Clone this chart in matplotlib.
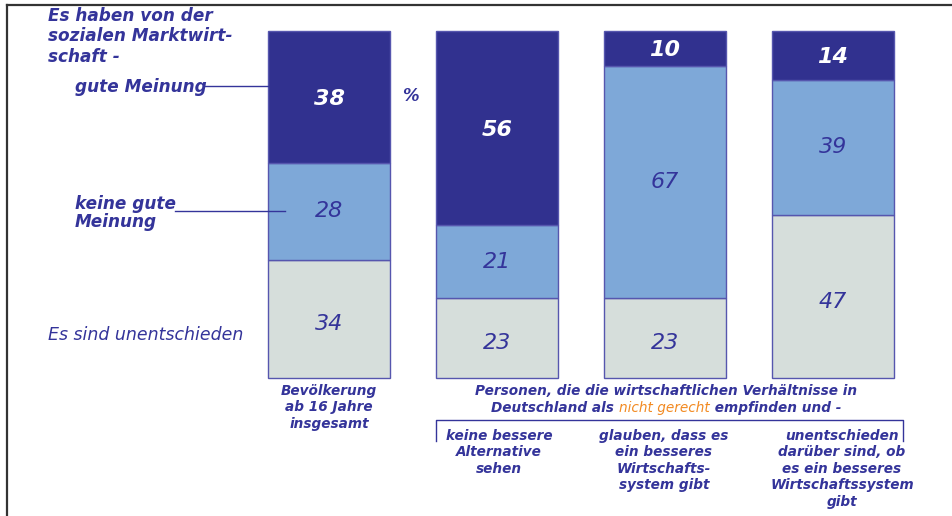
import matplotlib
matplotlib.use("Agg")
import matplotlib.pyplot as plt
from matplotlib.lines import Line2D
from matplotlib.offsetbox import TextArea, HPacker, AnnotationBbox
import numpy as np

# ---- data ----
groups = ["Bevölkerung ab 16 Jahre insgesamt", "keine bessere Alternative sehen",
          "glauben, dass es ein besseres Wirtschaftssystem gibt",
          "unentschieden darüber sind, ob es ein besseres Wirtschaftssystem gibt"]
gute_meinung = [38, 56, 10, 14]
keine_gute = [28, 21, 67, 39]
unentschieden = [34, 23, 23, 47]
bottom_labels = ["keine bessere\nAlternative\nsehen",
                 "glauben, dass es\nein besseres\nWirtschafts-\nsystem gibt",
                 "unentschieden\ndarüber sind, ob\nes ein besseres\nWirtschaftssystem\ngibt"]

W, H = 953, 516
DARK = "#31318f"
MID = "#7ea8d8"
LIGHT = "#d6dedb"
EDGE = "#5656ae"
TXT = "#34349a"
ORANGE = "#f28a22"
FONT = "DejaVu Sans"

fig = plt.figure(figsize=(W / 100, H / 100), dpi=100)
ax = fig.add_axes([0, 0, 1, 1])
# pixel mapping: bar centres at 329 + 168*i px, 0% at y=378px, 100% at y=31px
ax.set_xlim(-329 / 168, (W - 329) / 168)
ax.set_ylim((378 - H) / 3.47, 378 / 3.47)
ax.axis("off")

def px(x, y):
    return (x / W, 1 - y / H)

x = np.arange(len(gute_meinung))
bw = 122 / 168
g = np.array(unentschieden)
k = np.array(keine_gute)
d = np.array(gute_meinung)
ax.bar(x, g, bw, color=LIGHT, edgecolor=EDGE, linewidth=1)
ax.bar(x, k, bw, bottom=g, color=MID, edgecolor=EDGE, linewidth=1)
ax.bar(x, d, bw, bottom=g + k, color=DARK, edgecolor=EDGE, linewidth=1)

for i in range(len(x)):
    ax.text(x[i], g[i] / 2 - 1.5, str(g[i]), ha="center", va="center", color=TXT,
            fontsize=16, fontstyle="italic", family=FONT)
    ax.text(x[i], g[i] + k[i] / 2, str(k[i]), ha="center", va="center", color=TXT,
            fontsize=16, fontstyle="italic", family=FONT)
    ax.text(x[i], g[i] + k[i] + d[i] / 2 - 0.5, str(d[i]), ha="center", va="center",
            color="white", fontsize=16, fontstyle="italic", fontweight="bold", family=FONT)

# frame lines
fig.add_artist(Line2D([7 / W, 1], [1 - 5 / H, 1 - 5 / H], color="#333333", lw=1.6,
                      transform=fig.transFigure))
fig.add_artist(Line2D([7 / W, 7 / W], [1 - 5 / H, 0], color="#333333", lw=1.6,
                      transform=fig.transFigure))

bi = dict(fontstyle="italic", fontweight="bold", family=FONT, color=TXT)

# left annotations
fig.text(*px(48, 7), "Es haben von der\nsozialen Marktwirt-\nschaft -", ha="left", va="top",
         fontsize=12.2, linespacing=1.17, **bi)
fig.text(*px(75, 87), "gute Meinung", ha="left", va="center", fontsize=12.2, **bi)
fig.add_artist(Line2D([205 / W, 268 / W], [1 - 86 / H] * 2, color=TXT, lw=1,
                      transform=fig.transFigure))
fig.text(*px(75, 213), "keine gute\nMeinung", ha="left", va="center", fontsize=12.2,
         linespacing=1.0, **bi)
fig.add_artist(Line2D([175 / W, 285 / W], [1 - 211 / H] * 2, color=TXT, lw=1,
                      transform=fig.transFigure))
fig.text(*px(48, 335), "Es sind unentschieden", ha="left", va="center", fontsize=12.5,
         fontstyle="italic", family=FONT, color=TXT)
fig.text(*px(410, 96), "%", ha="center", va="center", fontsize=12, **bi)

# bottom labels
BFS = 9.8
fig.text(*px(329, 384), "Bevölkerung\nab 16 Jahre\ninsgesamt", ha="center", va="top",
         fontsize=BFS, linespacing=1.22, **bi)
fig.text(*px(666, 384), "Personen, die die wirtschaftlichen Verhältnisse in", ha="center",
         va="top", fontsize=BFS, **bi)
parts = [TextArea("Deutschland als ", textprops=dict(fontsize=BFS, **bi)),
         TextArea("nicht gerecht", textprops=dict(fontsize=BFS, fontstyle="italic",
                                                   family=FONT, color=ORANGE)),
         TextArea(" empfinden und -", textprops=dict(fontsize=BFS, **bi))]
box = HPacker(children=parts, pad=0, sep=0, align="baseline")
ab = AnnotationBbox(box, px(666, 408), xycoords="figure fraction", frameon=False,
                    box_alignment=(0.5, 0.5), pad=0)
fig.add_artist(ab)

# bracket
fig.add_artist(Line2D([436 / W, 436 / W, 903 / W, 903 / W],
                      [1 - 441 / H, 1 - 420 / H, 1 - 420 / H, 1 - 441 / H],
                      color=TXT, lw=1, transform=fig.transFigure))
for i, lab in enumerate(bottom_labels):
    cx = [499, 664, 842][i]
    fig.text(*px(cx, 429), lab, ha="center", va="top", fontsize=BFS, linespacing=1.22, **bi)

fig.savefig("out.png", dpi=100)
